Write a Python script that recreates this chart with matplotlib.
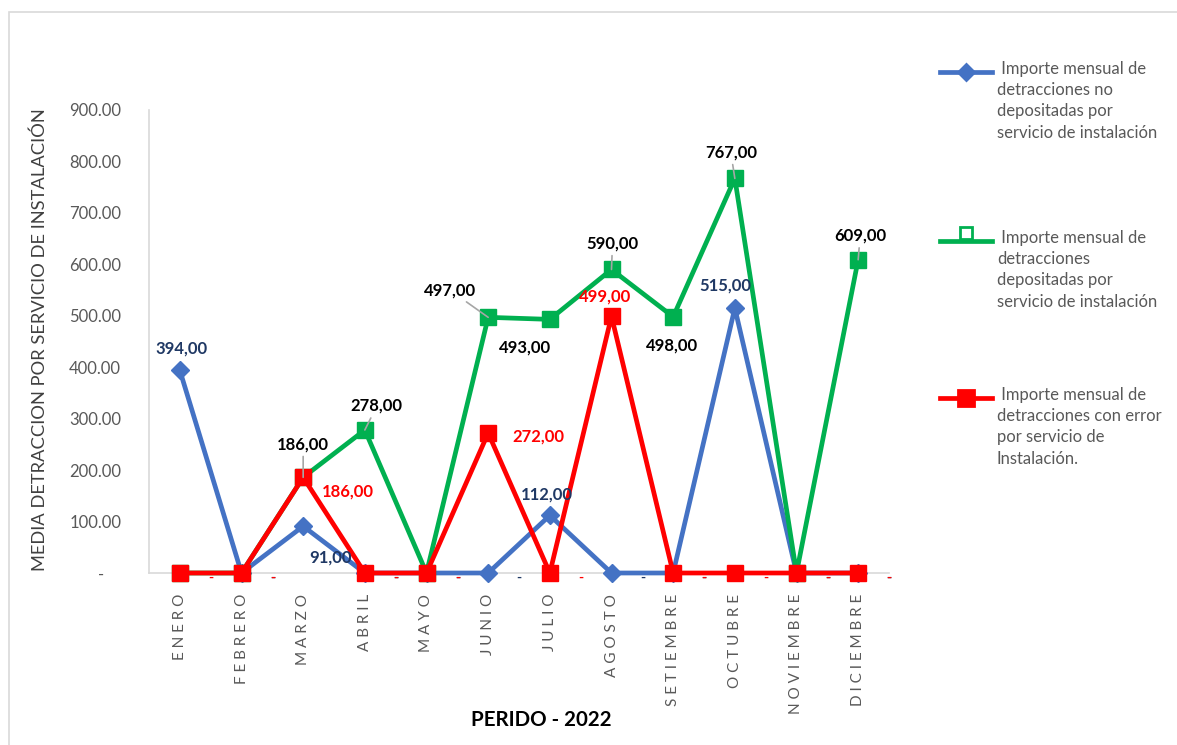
import matplotlib.pyplot as plt
from matplotlib.lines import Line2D
from matplotlib.patches import Rectangle
from matplotlib.ticker import FuncFormatter
import numpy as np

# --- Datos ---
meses = ['ENERO', 'FEBRERO', 'MARZO', 'ABRIL', 'MAYO', 'JUNIO', 'JULIO',
         'AGOSTO', 'SETIEMBRE', 'OCTUBRE', 'NOVIEMBRE', 'DICIEMBRE']
no_depositadas = [394, 0, 91, 0, 0, 0, 112, 0, 0, 515, 0, 0]
depositadas = [0, 0, 186, 278, 0, 497, 493, 590, 498, 767, 0, 609]
con_error = [0, 0, 186, 0, 0, 272, 0, 499, 0, 0, 0, 0]

nombres = [' Importe mensual de\ndetracciones no\ndepositadas por\nservicio de instalación',
           ' Importe mensual de\ndetracciones\ndepositadas por\nservicio de instalación',
           ' Importe mensual de\ndetracciones con error\npor servicio de\nInstalación.']

# --- Estilos ---
azul, verde, rojo = '#4472C4', '#00B050', '#FF0000'
navy = '#1F3864'
gris = '#595959'
plt.rcParams['font.family'] = ['Lato', 'DejaVu Sans']

# posiciones de etiquetas (pixeles, relativas al punto)
off_azul = {0: (2, 22), 2: (27, -31), 6: (-3, 21), 9: (-10, 23)}
off_verde = {2: (0, 33), 3: (12, 24), 5: (-38, 27), 6: (-25, -28),
             7: (1, 26), 8: (-1, -29), 9: (-4, 26), 11: (2, 24)}
off_rojo = {2: (45, -14), 5: (50, -3), 7: (-6, 20)}
con_guia = {('v', 2), ('v', 3), ('v', 5), ('v', 7), ('v', 9), ('v', 11)}

W, H = 1177, 745
fig = plt.figure(figsize=(W / 100, H / 100), dpi=100)
ax = fig.add_axes([149 / W, 1 - 573 / H, (889 - 149) / W, (573 - 110) / H])

x = np.arange(len(meses))
ax.plot(x, no_depositadas, color=azul, lw=3.4, marker='D', markersize=9, zorder=3, clip_on=False)
ax.plot(x, depositadas, color=verde, lw=3.4, marker='s', markersize=12, zorder=3.1, clip_on=False)
ax.plot(x, con_error, color=rojo, lw=3.4, marker='s', markersize=12, zorder=3.2, clip_on=False)

def fmt(v):
    return f'{v:.2f}'.replace('.', ',')

def etiquetas(valores, offsets, color, clave):
    for i, v in enumerate(valores):
        if i in offsets:
            dx, dy = offsets[i]
            props = None
            if (clave, i) in con_guia:
                props = dict(arrowstyle='-', color='#A6A6A6', lw=1.2, shrinkA=1, shrinkB=0)
            ax.annotate(fmt(v), xy=(i, v), xytext=(dx, dy), textcoords='offset pixels',
                        ha='center', va='center', fontsize=12, fontweight='bold',
                        color=color, arrowprops=props, zorder=5)
        elif v == 0 and clave != 'v':
            ax.annotate('-', xy=(i, v), xytext=(31, -5), textcoords='offset pixels',
                        ha='center', va='center', fontsize=10, fontweight='bold',
                        color=color, zorder=5)

etiquetas(no_depositadas, off_azul, navy, 'a')
etiquetas(depositadas, off_verde, 'black', 'v')
etiquetas(con_error, off_rojo, rojo, 'r')

# --- Ejes ---
ax.set_xlim(-0.5, len(meses) - 0.5)
ax.set_ylim(0, 900)
ax.set_yticks(np.arange(0, 901, 100))
ax.yaxis.set_major_formatter(FuncFormatter(lambda v, p: '-    ' if v == 0 else f'{v:.2f}'))
ax.set_xticks(x)
ax.set_xticklabels([' '.join(m) for m in meses], rotation=90, va='top')
ax.tick_params(axis='y', length=0, colors=gris, labelsize=12, pad=20)
ax.tick_params(axis='x', length=0, colors=gris, labelsize=11, pad=15)
for s in ['top', 'right']:
    ax.spines[s].set_visible(False)
for s in ['left', 'bottom']:
    ax.spines[s].set_color('#D9D9D9')
    ax.spines[s].set_linewidth(1.2)

fig.text(40 / W, 1 - 340 / H, 'MEDIA DETRACCION POR SERVICIO DE INSTALACIÓN',
         rotation=90, ha='center', va='center', fontsize=13.2, color='#404040')
fig.text(541 / W, 1 - 720 / H, 'PERIDO - 2022', ha='center', va='center',
         fontsize=14.8, fontweight='bold', color='black')

# --- Leyenda manual ---
estilos = [dict(color=azul, marker='D', markersize=8, mfc=azul, mec=azul),
           dict(color=verde, marker='s', markersize=8, mfc='white', mec=verde),
           dict(color=rojo, marker='s', markersize=11, mfc=rojo, mec=rojo)]
ys = [72, 241, 398]
for nombre, est, y in zip(nombres, estilos, ys):
    fig.add_artist(Line2D([940 / W, 992 / W], [1 - y / H, 1 - y / H],
                          transform=fig.transFigure, color=est['color'], lw=3.4))
    my = y - 8 if est['mfc'] == 'white' else y
    fig.add_artist(Line2D([966 / W], [1 - my / H], transform=fig.transFigure,
                          linestyle='none', marker=est['marker'], markersize=est['markersize'],
                          mfc=est['mfc'], mec=est['mec'], mew=2))
    fig.text(997 / W, 1 - (y - 11) / H, nombre, ha='left', va='top', fontsize=12,
             color=gris, linespacing=1.4)

# borde del área del gráfico
fig.add_artist(Rectangle((9 / W, -0.01), 1.02, 1 - 12 / H + 0.01, transform=fig.transFigure,
                         fill=False, edgecolor='#D9D9D9', lw=1.2))

plt.savefig('out.png', dpi=100)
